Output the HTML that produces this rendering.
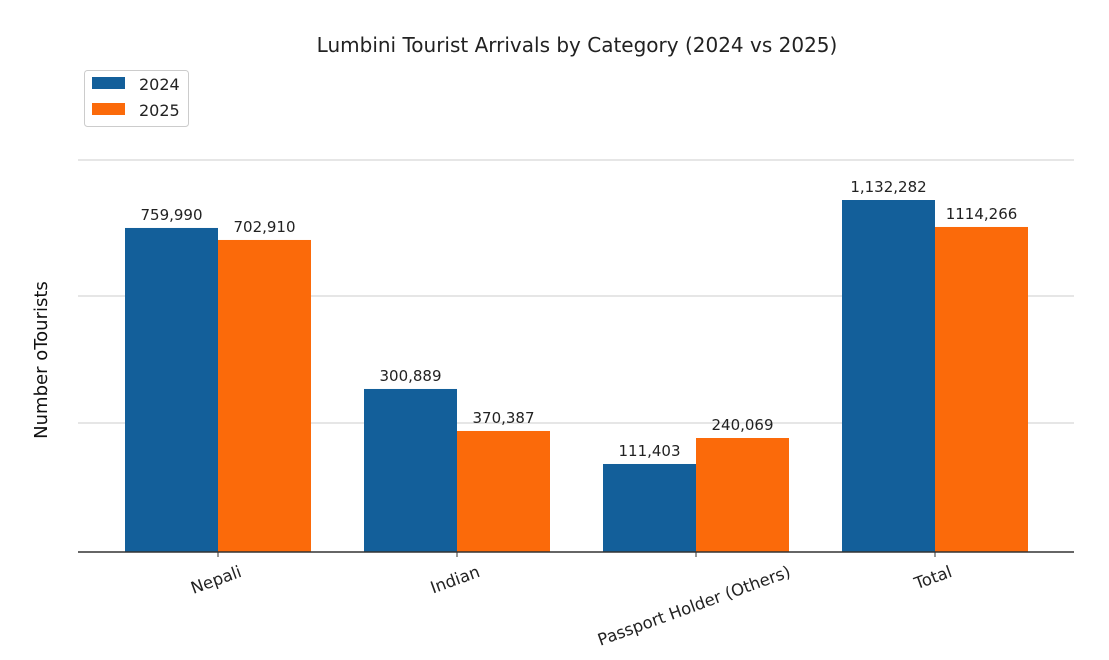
<!DOCTYPE html>
<html><head><meta charset="utf-8"><style>
html,body{margin:0;padding:0;background:#fff;}
svg{display:block;font-family:"DejaVu Sans","Liberation Sans",sans-serif;}
</style></head><body>
<svg id="chart" width="1109" height="660">
<text x="577" y="52" text-anchor="middle" font-size="20" fill="#222">Lumbini Tourist Arrivals by Category (2024 vs 2025)</text>
<text transform="translate(47,360) rotate(-90)" text-anchor="middle" font-size="18" fill="#111">Number oTourists</text>
<g id="grid"></g><g id="bars"></g><g id="labels"></g><g id="xaxis"></g>
<g>
<rect x="84.5" y="70.5" width="104" height="56" rx="3" fill="#fff" stroke="#ccc"/>
<rect x="92" y="77" width="33" height="12" fill="#135f9a"/>
<text x="139" y="90" font-size="16" fill="#222">2024</text>
<rect x="92" y="103" width="33" height="12" fill="#fb6a0a"/>
<text x="139" y="116" font-size="16" fill="#222">2025</text>
</g>
</svg>
<script>
const categories=["Nepali","Indian","Passport Holder (Others)","Total"];
const values2024=[1042300,524400,283100,1132282];
const values2025=[1003700,389300,366700,1045500];
const labels2024=["759,990","300,889","111,403","1,132,282"];
const labels2025=["702,910","370,387","240,069","1114,266"];
const gridValues=[415000,823500,1261000];

const NS="http://www.w3.org/2000/svg";
const y0=552, pxPer=352/1132282;
const yScale=v=>y0-v*pxPer;
const xCenter=i=>218+i*239;
const bw=93;
function mk(tag,attrs,parent){const e=document.createElementNS(NS,tag);for(const k in attrs)e.setAttribute(k,attrs[k]);parent.appendChild(e);return e;}
const grid=document.getElementById('grid'),bars=document.getElementById('bars'),labs=document.getElementById('labels'),xa=document.getElementById('xaxis');
gridValues.forEach(g=>{const l=mk('line',{x1:78,x2:1074,y1:yScale(g),y2:yScale(g),stroke:'#ddd','stroke-width':1.5},grid);

});
const ang=20*Math.PI/180;
categories.forEach((c,i)=>{
  const cx=xCenter(i);
  [[values2024,labels2024,'#135f9a',cx-bw,'2024'],[values2025,labels2025,'#fb6a0a',cx,'2025']].forEach(s=>{
    const v=s[0][i],y=yScale(v);
    const r=mk('rect',{x:s[3],y:y,width:bw,height:y0-y,fill:s[2]},bars);
    
    
    const t=mk('text',{x:s[3]+bw/2,y:y-8,'text-anchor':'middle','font-size':15,fill:'#222'},labs);
    t.textContent=s[1][i];
    
    
  });
  const tk=mk('line',{x1:cx,x2:cx,y1:y0,y2:y0+5,stroke:'#333'},xa);
  
  
  const tl=mk('text',{'text-anchor':'middle','font-size':16.5,fill:'#222'},xa);
  tl.textContent=c;
  
  
  const L=tl.getComputedTextLength(), h=16.5;
  const cy=563+(L/2)*Math.sin(ang)+(h/2)*Math.cos(ang);
  tl.setAttribute('transform','translate('+(cx-2)+','+cy+') rotate(-20) translate(0,'+(h*0.35)+')');
});
const ax=mk('line',{x1:78,x2:1074,y1:y0,y2:y0,stroke:'#333','stroke-width':1.5},xa);


</script>
</body></html>
